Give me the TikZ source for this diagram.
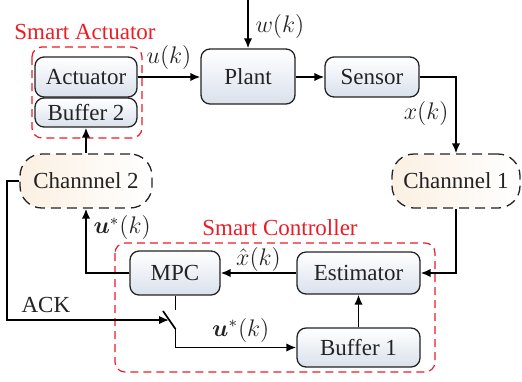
\documentclass[tikz,border=0pt]{standalone}
\usepackage{amsmath}
\usepackage{amssymb}
\usepackage{fontspec}
\setmainfont{Liberation Serif}
\usetikzlibrary{arrows.meta}
\definecolor{smartred}{RGB}{237,28,36}
\definecolor{inkgray}{RGB}{35,35,35}
\definecolor{blkshade}{RGB}{218,225,236}
\definecolor{chanshade}{RGB}{251,240,226}
\newcommand{\ustar}{$\boldsymbol{u}^{*}(k)$}
\tikzset{
  blk/.style={draw=inkgray, line width=0.65pt, rounded corners=4.5pt, top color=white,
    bottom color=blkshade, inner sep=0pt, text=inkgray},
  chan/.style={draw=inkgray, line width=0.65pt, dash pattern=on 5pt off 3pt,
    rounded corners=11pt, left color=chanshade, right color=white, inner sep=0pt,
    text=inkgray, minimum height=27pt},
  smart/.style={draw=smartred, line width=0.6pt, dash pattern=on 4pt off 2.5pt,
    rounded corners=5pt},
  sig/.style={line width=0.85pt, -{Latex[length=5pt,width=4.2pt]}},
  wire/.style={line width=0.85pt}
}
\begin{document}
\begin{tikzpicture}[x=0.5pt,y=-0.5pt,font=\fontsize{11.5}{13}\selectfont]
  \useasboundingbox (0,0) rectangle (522,381);
  % smart boxes
  \draw[smart] (32,47) rectangle (142,138);
  \draw[smart] (115,243) rectangle (435,372);
  \node[text=smartred, inner sep=1pt] (satitle) at (85,32) {Smart Actuator};
  \node[text=smartred, inner sep=1pt] (sctitle) at (280,228) {Smart Controller};

  % blocks
  \node[blk, minimum width=51pt, minimum height=20pt] (act) at (86,77) {Actuator};
  \node[blk, minimum width=51pt, minimum height=14.5pt] (buf2) at (86,112.5) {Buffer 2};
  \node[blk, minimum width=47pt, minimum height=27.5pt] (plant) at (248,76.5) {Plant};
  \node[blk, minimum width=47pt, minimum height=20pt] (sensor) at (372,77) {Sensor};
  \node[chan, minimum width=64pt] (ch1) at (456,181) {Channnel 1};
  \node[chan, minimum width=66pt] (ch2) at (86,181) {Channnel 2};
  \node[blk, minimum width=61.5pt, minimum height=21pt] (est) at (358.5,273) {Estimator};
  \node[blk, minimum width=61.5pt, minimum height=19.5pt] (buf1) at (358.5,347.5) {Buffer 1};
  \node[blk, minimum width=45pt, minimum height=22pt] (mpc) at (175,273) {MPC};

  \coordinate (wtop) at (248,0);
  \coordinate (ackturn) at (7,181);
  \coordinate (ackin) at (169,320);
  \coordinate (swtop) at (175.5,310);
  \coordinate (swa) at (163,311);
  \coordinate (swb) at (175.5,329);

  % connections
  \draw[sig] (act.east) -- node[above, text=inkgray] {$u(k)$} (act.east -| plant.west);
  \draw[sig] (wtop) -- node[right, pos=0.55, text=inkgray] {$w(k)$} (plant.north);
  \draw[sig] (plant.east |- sensor.west) -- (sensor.west);
  \draw[sig] (sensor.east) -| node[left, pos=0.74, text=inkgray] {$x(k)$} (ch1.north);
  \draw[sig] (ch1.south) |- (est.east);
  \draw[sig] (buf1.north) -- (est.south);
  \draw[sig] (est.west) -- node[above, inner sep=0.5pt, text=inkgray] {$\hat{x}(k)$} (mpc.east);
  \draw[sig] (mpc.west) -| node[right, pos=0.85, text=inkgray] {\ustar} (ch2.south);
  \draw[sig] (ch2.north) -- (buf2.south);

  % ack and switch
  \draw[sig] (ch2.west) -- (ackturn) |- node[above, pos=0.62, text=inkgray] {ACK} (ackin);
  \draw[wire] (mpc.south -| swtop) -- (swtop);
  \draw[wire] (swa) -- (swb);
  \draw[sig] (swb) |- node[above, pos=0.77, inner sep=2pt, text=inkgray] {\ustar} (buf1.west);
\end{tikzpicture}
\end{document}
